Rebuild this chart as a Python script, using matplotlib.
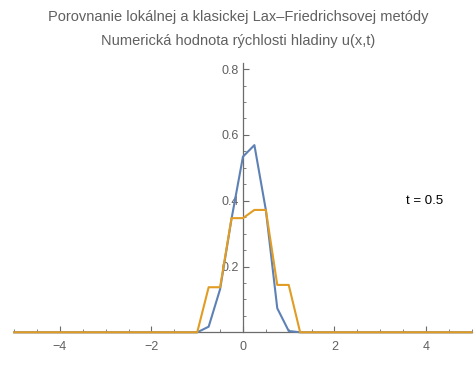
import numpy as np
import matplotlib.pyplot as plt
from matplotlib.ticker import MultipleLocator

plt.rcParams['font.family'] = ['Liberation Sans', 'DejaVu Sans']

# spatial grid (step 0.25) and the two numerical solutions at t = 0.5
x = np.arange(-5.0, 5.0001, 0.25)
x_nz = [-1.0, -0.75, -0.5, -0.25, 0.0, 0.25, 0.5, 0.75, 1.0, 1.25]
u_local = [0.0, 0.017, 0.131, 0.345, 0.534, 0.569, 0.372, 0.073, 0.004, 0.0]
u_classic = [0.0, 0.137, 0.137, 0.347, 0.347, 0.372, 0.372, 0.144, 0.144, 0.0]

title_lines = ["Porovnanie lokálnej a klasickej Lax\u2013Friedrichsovej metódy",
               "Numerická hodnota rýchlosti hladiny u(x,t)"]
time_label = "t = 0.5"

def on_grid(xs, vals):
    out = np.zeros_like(x)
    for xi, v in zip(xs, vals):
        out[np.argmin(np.abs(x - xi))] = v
    return out

y_local = on_grid(x_nz, u_local)
y_classic = on_grid(x_nz, u_classic)

blue = '#5E81B5'
orange = '#E19C24'
axis_gray = '#6b6b6b'
text_gray = '#606060'

fig = plt.figure(figsize=(4.75, 3.65), dpi=100)
ax = fig.add_axes([0.030, 0.0896, 0.963, 0.739])

ax.plot(x, y_local, color=blue, lw=1.5, clip_on=False, zorder=3)
ax.plot(x, y_classic, color=orange, lw=1.5, clip_on=False, zorder=4)

ax.set_xlim(-5, 5)
ax.set_ylim(0, 0.82)

for s in ['top', 'right']:
    ax.spines[s].set_visible(False)
ax.spines['left'].set_position(('data', 0))
ax.spines['bottom'].set_position(('data', 0))
for s in ['left', 'bottom']:
    ax.spines[s].set_color(axis_gray)
    ax.spines[s].set_linewidth(0.9)

ax.xaxis.set_major_locator(MultipleLocator(2))
ax.xaxis.set_minor_locator(MultipleLocator(0.5))
ax.yaxis.set_major_locator(MultipleLocator(0.2))
ax.yaxis.set_minor_locator(MultipleLocator(0.05))

ax.set_xticks([-4, -2, 0, 2, 4])
ax.set_xticklabels(['\u22124', '\u22122', '0', '2', '4'])
ax.set_yticks([0.2, 0.4, 0.6, 0.8])
ax.set_yticklabels(['0.2', '0.4', '0.6', '0.8'])

ax.tick_params(axis='both', which='both', direction='in', color=axis_gray,
               labelcolor=text_gray, labelsize=9)
ax.tick_params(axis='both', which='major', length=4.5, width=0.8)
ax.tick_params(axis='both', which='minor', length=2.5, width=0.6)
ax.tick_params(axis='x', pad=6)
ax.tick_params(axis='y', pad=3)

ax.text(3.98, 0.40, time_label, ha='center', va='center', fontsize=9.5, color='black')

fig.text(0.502, 0.953, title_lines[0], ha='center', va='center', fontsize=10.5, color=text_gray)
fig.text(0.502, 0.887, title_lines[1], ha='center', va='center', fontsize=10.5, color=text_gray)

fig.savefig('out.png', dpi=100)
